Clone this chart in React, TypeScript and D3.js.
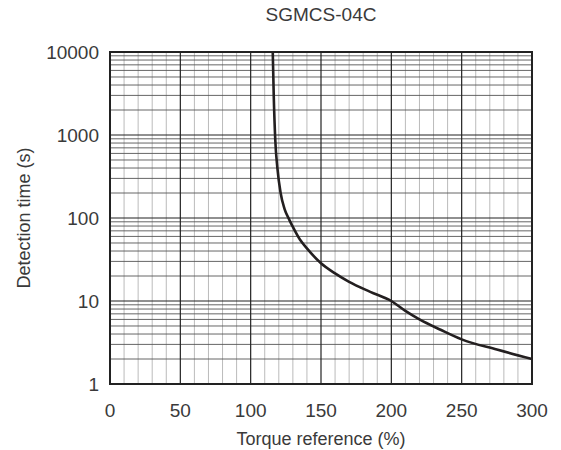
import React from 'react';
import * as d3 from 'd3';

const title = 'SGMCS-04C';
const xTicks = [0, 50, 100, 150, 200, 250, 300];
const yTicks = [1, 10, 100, 1000, 10000];
const torque = [115.7, 116.4, 117.5, 119, 121.3, 124, 127.5, 130, 135, 140, 150, 160, 170, 185, 200, 210, 220, 235, 250, 275, 300];
const detTime = [10000, 3000, 870, 400, 200, 130, 95, 78, 55, 43, 28.5, 21.5, 17, 12.9, 10, 7.6, 6, 4.5, 3.45, 2.6, 2.0];

const W = 561;
const H = 450;
const m = { top: 52, right: 29, bottom: 66, left: 110 };

export default function App() {
  const x = d3.scaleLinear().domain([0, 300]).range([m.left, W - m.right]);
  const y = d3.scaleLog().domain([1, 10000]).range([H - m.bottom, m.top]);

  const minorX = d3.range(0, 301, 10).filter(v => v % 50 !== 0);
  const minorY: number[] = [];
  for (let d = 1; d < 10000; d *= 10) {
    for (let k = 2; k <= 9; k++) minorY.push(d * k);
  }

  const pts = torque.map((t, i) => [t, detTime[i]] as [number, number]);
  const line = d3.line<[number, number]>()
    .x(d => x(d[0]))
    .y(d => y(d[1]))
    .curve(d3.curveMonotoneX);

  const font = '"Liberation Sans", Arial, sans-serif';
  const cx = (m.left + W - m.right) / 2;
  const txt = '#3a3a3a';

  return (
    <svg width={W} height={H} style={{ position: 'absolute', left: 0, top: 0 }} fontFamily={font}>
      <rect width={W} height={H} fill="#fff" />
      {minorX.map(v => (
        <line key={'mx' + v} x1={x(v)} x2={x(v)} y1={m.top} y2={H - m.bottom} stroke="#bbb" strokeWidth={1} />
      ))}
      {minorY.map(v => (
        <line key={'my' + v} x1={m.left} x2={W - m.right} y1={y(v)} y2={y(v)} stroke="#555" strokeWidth={0.9} />
      ))}
      {xTicks.map(v => (
        <line key={'gx' + v} x1={x(v)} x2={x(v)} y1={m.top} y2={H - m.bottom} stroke="#222" strokeWidth={1.2} />
      ))}
      {yTicks.map(v => (
        <line key={'gy' + v} x1={m.left} x2={W - m.right} y1={y(v)} y2={y(v)} stroke="#222" strokeWidth={1.2} />
      ))}
      <rect x={m.left} y={m.top} width={W - m.right - m.left} height={H - m.bottom - m.top} fill="none" stroke="#222" strokeWidth={2} />
      <path d={line(pts) || ''} fill="none" stroke="#231f20" strokeWidth={2.6} />
      {xTicks.map(v => (
        <text key={'tx' + v} x={x(v)} y={H - m.bottom + 33} textAnchor="middle" fontSize={19} fill={txt}>{v}</text>
      ))}
      {yTicks.map(v => (
        <text key={'ty' + v} x={m.left - 11} y={y(v) + 7} textAnchor="end" fontSize={19} fill={txt}>{v}</text>
      ))}
      <text x={cx} y={21} textAnchor="middle" fontSize={19} fill={txt}>{title}</text>
      <text x={cx} y={445} textAnchor="middle" fontSize={18} fill={txt}>Torque reference (%)</text>
      <text transform={`translate(30,${(m.top + H - m.bottom) / 2}) rotate(-90)`} textAnchor="middle" fontSize={18} fill={txt}>Detection time (s)</text>
    </svg>
  );
}
